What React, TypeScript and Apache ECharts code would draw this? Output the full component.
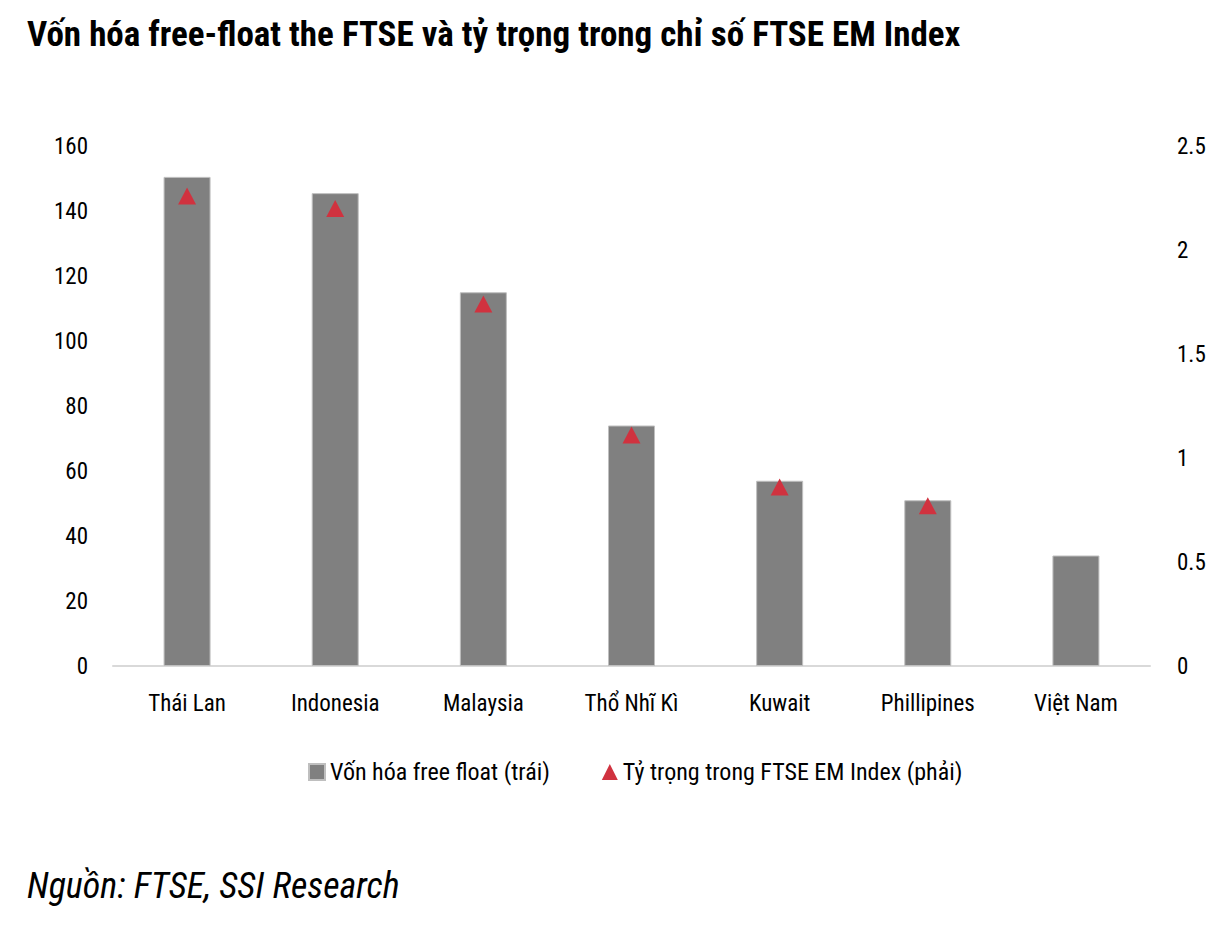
import React, { useEffect, useRef } from "react";
import * as echarts from "echarts";

const categories = ["Thái Lan", "Indonesia", "Malaysia", "Thổ Nhĩ Kì", "Kuwait", "Phillipines", "Việt Nam"];
const freeFloatCap = [150.5, 145.5, 115, 74, 57, 51, 34];
const emWeight: (number | null)[] = [2.26, 2.2, 1.74, 1.11, 0.86, 0.77, null];
const leftTicks = { min: 0, max: 160, interval: 20 };
const rightTicks = { min: 0, max: 2.5, interval: 0.5 };

const FONT = "'Liberation Sans Narrow', 'Arial Narrow', 'Roboto Condensed', Roboto, sans-serif";

export default function App() {
  const ref = useRef<HTMLDivElement>(null);
  useEffect(() => {
    if (!ref.current) return;
    const chart = echarts.init(ref.current, null, { renderer: "svg" });
    chart.setOption({
      animation: false,
      backgroundColor: "#ffffff",
      textStyle: { fontFamily: FONT },
      title: {
        text: "Vốn hóa free-float the FTSE và tỷ trọng trong chỉ số FTSE EM Index",
        left: 22,
        top: 12,
        textStyle: { fontFamily: FONT, fontWeight: "bold", fontSize: 35, color: "#000" },
      },
      graphic: [
        {
          type: "text",
          left: 27,
          top: 868,
          style: {
            text: "Nguồn: FTSE, SSI Research",
            font: `italic 36px ${FONT}`,
            fill: "#000",
          },
        },
      ],
      legend: {
        left: 303,
        top: 755,
        itemGap: 52,
        itemWidth: 16,
        itemHeight: 16,
        textStyle: { fontFamily: FONT, fontSize: 24, color: "#000" },
        data: [
          { name: "Vốn hóa free float (trái)", icon: "rect" },
          { name: "Tỷ trọng trong FTSE EM Index (phải)", icon: "triangle" },
        ],
      },
      grid: { left: 113, right: 78, top: 146, bottom: 262, containLabel: false },
      xAxis: {
        type: "category",
        data: categories,
        axisLine: { lineStyle: { color: "#d9d9d9", width: 2 } },
        axisTick: { show: false },
        axisLabel: { fontFamily: FONT, fontSize: 23, color: "#000", margin: 26 },
      },
      yAxis: [
        {
          type: "value",
          min: leftTicks.min,
          max: leftTicks.max,
          interval: leftTicks.interval,
          splitLine: { show: false },
          axisLine: { show: false },
          axisTick: { show: false },
          axisLabel: { fontFamily: FONT, fontSize: 23, color: "#000", margin: 25 },
        },
        {
          type: "value",
          min: rightTicks.min,
          max: rightTicks.max,
          interval: rightTicks.interval,
          splitLine: { show: false },
          axisLine: { show: false },
          axisTick: { show: false },
          axisLabel: { fontFamily: FONT, fontSize: 23, color: "#000", margin: 27 },
        },
      ],
      series: [
        {
          name: "Vốn hóa free float (trái)",
          type: "bar",
          data: freeFloatCap,
          barWidth: 47,
          itemStyle: { color: "#808080", borderColor: "#bfbfbf", borderWidth: 1 },
        },
        {
          name: "Tỷ trọng trong FTSE EM Index (phải)",
          type: "scatter",
          yAxisIndex: 1,
          data: emWeight,
          symbol: "triangle",
          symbolSize: [18, 17],
          itemStyle: { color: "#d0323f", opacity: 1 },
          z: 5,
        },
      ],
    });
    return () => chart.dispose();
  }, []);
  return <div ref={ref} style={{ width: 1228, height: 928, position: "absolute", left: 0, top: 0 }} />;
}
